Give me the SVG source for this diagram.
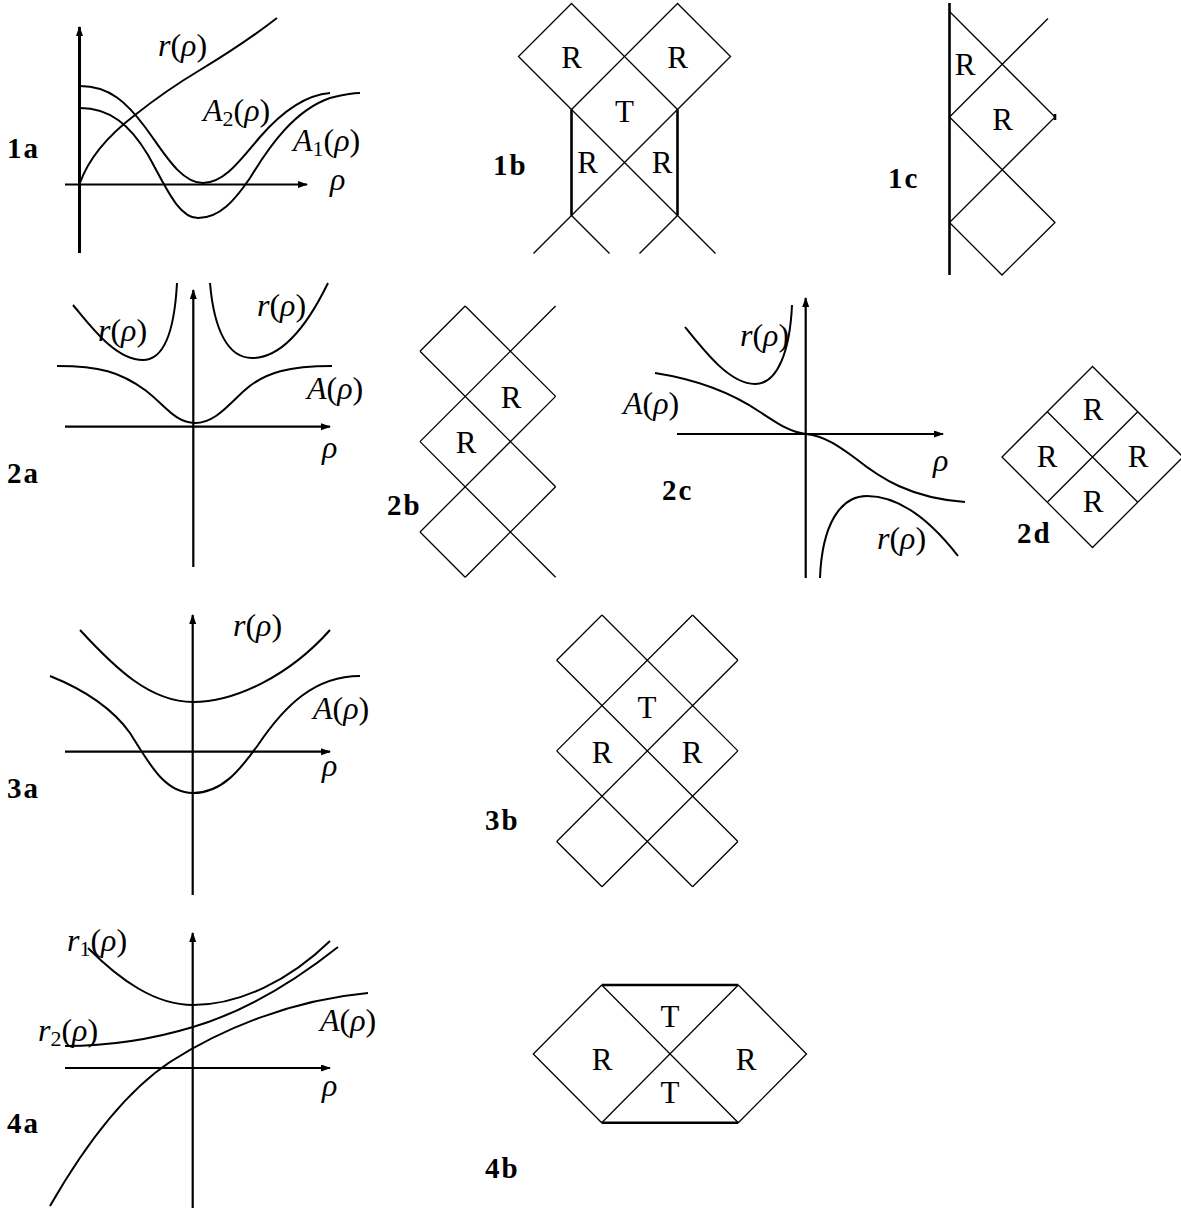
<svg xmlns="http://www.w3.org/2000/svg" width="1181" height="1213" viewBox="0 0 1181 1213">
<style>
.bg{fill:#fff}
.ax{fill:none;stroke:#000;stroke-width:2.2}
.axT{fill:none;stroke:#000;stroke-width:3}
.cv{fill:none;stroke:#000;stroke-width:2}
.dl{fill:none;stroke:#000;stroke-width:1.3;stroke-linejoin:miter}
.th{fill:none;stroke:#000;stroke-width:2.6}
.m{font-family:"Liberation Serif",serif;font-size:32px;font-style:italic;fill:#000}
.u{font-style:normal}
.sub{font-size:22px}
.lab{font-family:"Liberation Serif",serif;font-size:31px;text-anchor:middle;fill:#000}
.fig{font-family:"Liberation Serif",serif;font-size:29px;font-weight:bold;fill:#000;letter-spacing:2px}
</style>
<defs>
<marker id="arr" markerUnits="userSpaceOnUse" markerWidth="12" markerHeight="8" refX="9" refY="3.5" orient="auto">
<path d="M0,0 L10,3.5 L0,7 z" fill="#000"/>
</marker>
</defs>
<rect class="bg" x="0" y="0" width="1181" height="1213"/>

<g id="panel-1a">
<line class="axT" x1="79.5" y1="253" x2="79.5" y2="27" marker-end="url(#arr)"/>
<line class="ax" x1="65" y1="184.5" x2="307" y2="184.5" marker-end="url(#arr)"/>
<path class="cv" d="M80,183 C88,160 105,138 135,115 C160,95 180,82 200,70 C230,52 255,35 277,18"/>
<path class="cv" d="M80,86 C110,86 127,103 145,127 C163,151 180,183 203,183 C225,183 242,158 260,137 C280,114 305,95 330,93"/>
<path class="cv" d="M80,108 C110,108 130,125 148,155 C165,185 178,218 198,218 C220,218 235,200 250,178 C270,145 295,110 330,98 C342,95 352,93 360,93"/>
<text class="m" x="158" y="56">r<tspan class="u">(</tspan>ρ<tspan class="u">)</tspan></text>
<text class="m" x="203" y="121">A<tspan class="u sub" dy="5">2</tspan><tspan class="u" dy="-5">(</tspan>ρ<tspan class="u">)</tspan></text>
<text class="m" x="293" y="151">A<tspan class="u sub" dy="5">1</tspan><tspan class="u" dy="-5">(</tspan>ρ<tspan class="u">)</tspan></text>
<text class="m" x="330" y="190">ρ</text>
<text class="fig" x="7" y="158">1a</text>
</g>

<g id="panel-1b">
<path class="dl" d="M571.5,3.5 L518.5,56.5 L571.5,109.5 L624.5,56.5 Z"/>
<path class="dl" d="M677.5,3.5 L624.5,56.5 L677.5,109.5 L730.5,56.5 Z"/>
<path class="dl" d="M571.5,109.5 L677.5,215.5 M677.5,109.5 L571.5,215.5"/>
<path class="dl" d="M533.5,253.5 L571.5,215.5 L609.5,253.5 M639.5,253.5 L677.5,215.5 L715.5,253.5"/>
<path class="th" d="M571.5,109.5 L571.5,215.5 M677.5,109.5 L677.5,215.5"/>
<text class="lab" x="571.5" y="68">R</text>
<text class="lab" x="677.5" y="68">R</text>
<text class="lab" x="624.5" y="122">T</text>
<text class="lab" x="587.5" y="173">R</text>
<text class="lab" x="662" y="173">R</text>
<text class="fig" x="493" y="175">1b</text>
</g>

<g id="panel-1c">
<path class="th" d="M949.5,3 L949.5,275"/>
<path class="dl" d="M949.5,11.5 L1055,117 L949.5,222.5 L1002,275 L1055,222.5 L949.5,117 L1048,18.5"/>
<path class="th" d="M1055,114 L1055,120"/>
<text class="lab" x="965" y="75">R</text>
<text class="lab" x="1002.5" y="130">R</text>
<text class="fig" x="888" y="188">1c</text>
</g>

<g id="panel-2a">
<line class="ax" x1="193.3" y1="567" x2="193.3" y2="290" marker-end="url(#arr)"/>
<line class="ax" x1="65" y1="426.7" x2="330" y2="426.7" marker-end="url(#arr)"/>
<path class="cv" d="M73,305 C90,325 115,360 143,360 C168,360 175,320 177,283"/>
<path class="cv" d="M210,283 C214,330 228,358 252,358 C285,358 310,320 328,283"/>
<path class="cv" d="M57,366 C100,366 120,372 145,390 C165,405 175,423 195,423 C215,423 228,405 245,390 C265,372 290,366 332,366"/>
<text class="m" x="98" y="341">r<tspan class="u">(</tspan>ρ<tspan class="u">)</tspan></text>
<text class="m" x="257" y="316">r<tspan class="u">(</tspan>ρ<tspan class="u">)</tspan></text>
<text class="m" x="307" y="399">A<tspan class="u">(</tspan>ρ<tspan class="u">)</tspan></text>
<text class="m" x="322" y="458">ρ</text>
<text class="fig" x="7" y="483">2a</text>
</g>

<g id="panel-2b">
<path class="dl" d="M420,351.2 L465.2,306 M420,441.6 L555.6,306 M420,532 L555.6,396.4 M465.2,577.2 L555.6,486.8"/>
<path class="dl" d="M465.2,306 L555.6,396.4 M420,351.2 L555.6,486.8 M420,441.6 L555.6,577.2 M420,532 L465.2,577.2"/>
<text class="lab" x="511" y="408">R</text>
<text class="lab" x="466" y="453">R</text>
<text class="fig" x="387" y="515">2b</text>
</g>

<g id="panel-2c">
<line class="ax" x1="805.7" y1="578" x2="805.7" y2="298" marker-end="url(#arr)"/>
<line class="ax" x1="677" y1="434" x2="943" y2="434" marker-end="url(#arr)"/>
<path class="cv" d="M685,327 C705,352 730,384 755,384 C778,384 790,350 792,305"/>
<path class="cv" d="M820,578 C822,525 840,496 867,496 C900,496 930,520 958,556"/>
<path class="cv" d="M655,373 C700,380 735,395 760,412 C780,425 790,432 806,434 C825,436 840,447 855,458 C880,478 910,498 965,502"/>
<text class="m" x="740" y="346">r<tspan class="u">(</tspan>ρ<tspan class="u">)</tspan></text>
<text class="m" x="623" y="414">A<tspan class="u">(</tspan>ρ<tspan class="u">)</tspan></text>
<text class="m" x="933" y="471">ρ</text>
<text class="m" x="877" y="549">r<tspan class="u">(</tspan>ρ<tspan class="u">)</tspan></text>
<text class="fig" x="662" y="500">2c</text>
</g>

<g id="panel-2d">
<path class="dl" d="M1092.5,366.5 L1002,457 L1092.5,547.5 L1183,457 Z"/>
<path class="dl" d="M1047.25,411.75 L1137.75,502.25 M1137.75,411.75 L1047.25,502.25"/>
<text class="lab" x="1093" y="420">R</text>
<text class="lab" x="1047" y="467">R</text>
<text class="lab" x="1138" y="467">R</text>
<text class="lab" x="1093" y="512">R</text>
<text class="fig" x="1017" y="543">2d</text>
</g>

<g id="panel-3a">
<line class="ax" x1="192.7" y1="895" x2="192.7" y2="615" marker-end="url(#arr)"/>
<line class="ax" x1="65" y1="751.7" x2="330" y2="751.7" marker-end="url(#arr)"/>
<path class="cv" d="M80,630 C115,668 150,702 193,702 C236,702 290,675 330,630"/>
<path class="cv" d="M50,676 C80,688 110,705 130,733 C150,765 165,793 193,793 C222,793 240,770 258,745 C285,705 315,676 360,676"/>
<text class="m" x="233" y="636">r<tspan class="u">(</tspan>ρ<tspan class="u">)</tspan></text>
<text class="m" x="313" y="719">A<tspan class="u">(</tspan>ρ<tspan class="u">)</tspan></text>
<text class="m" x="322" y="776">ρ</text>
<text class="fig" x="7" y="798">3a</text>
</g>

<g id="panel-3b">
<path class="dl" d="M602,615 L737.9,750.9 M556.7,660.3 L737.9,841.5 M556.7,750.9 L692.6,886.8 M556.7,841.5 L602,886.8 M692.6,615 L737.9,660.3"/>
<path class="dl" d="M556.7,660.3 L602,615 M556.7,750.9 L692.6,615 M556.7,841.5 L737.9,660.3 M602,886.8 L737.9,750.9 M692.6,886.8 L737.9,841.5"/>
<text class="lab" x="647" y="718">T</text>
<text class="lab" x="602" y="763">R</text>
<text class="lab" x="692" y="763">R</text>
<text class="fig" x="485" y="830">3b</text>
</g>

<g id="panel-4a">
<line class="ax" x1="192.7" y1="1208" x2="192.7" y2="933" marker-end="url(#arr)"/>
<line class="ax" x1="65" y1="1068" x2="330" y2="1068" marker-end="url(#arr)"/>
<path class="cv" d="M88,948 C120,980 155,1005 193,1005 C240,1005 290,980 330,941"/>
<path class="cv" d="M65,1046 C120,1046 160,1037 193,1027 C240,1013 290,985 338,947"/>
<path class="cv" d="M50,1206 C85,1145 125,1092 170,1062 C220,1030 290,1000 368,993"/>
<text class="m" x="67" y="951">r<tspan class="u sub" dy="5">1</tspan><tspan class="u" dy="-5">(</tspan>ρ<tspan class="u">)</tspan></text>
<text class="m" x="38" y="1041">r<tspan class="u sub" dy="5">2</tspan><tspan class="u" dy="-5">(</tspan>ρ<tspan class="u">)</tspan></text>
<text class="m" x="320" y="1031">A<tspan class="u">(</tspan>ρ<tspan class="u">)</tspan></text>
<text class="m" x="322" y="1096">ρ</text>
<text class="fig" x="7" y="1133">4a</text>
</g>

<g id="panel-4b">
<path class="dl" d="M601.7,985 L533.3,1054 L601.7,1122.7 M738.3,985 L806.5,1054 L738.3,1122.7 M601.7,985 L738.3,1122.7 M738.3,985 L601.7,1122.7"/>
<path class="th" d="M601.7,985 L738.3,985 M601.7,1122.7 L738.3,1122.7"/>
<text class="lab" x="670" y="1027">T</text>
<text class="lab" x="602" y="1070">R</text>
<text class="lab" x="746" y="1070">R</text>
<text class="lab" x="670" y="1103">T</text>
<text class="fig" x="485" y="1178">4b</text>
</g>
</svg>
